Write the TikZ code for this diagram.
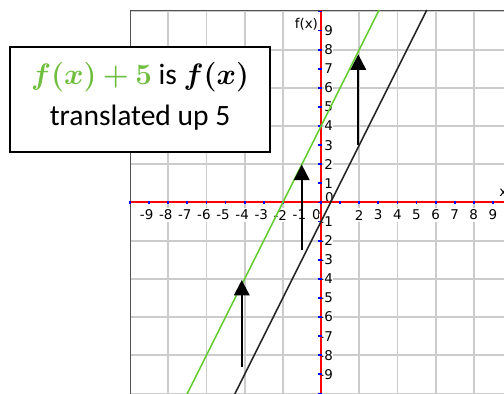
\documentclass[tikz,border=0pt]{standalone}
\usepackage{fix-cm}
\usepackage{amsmath,bm}
\usepackage{fontspec}
\setmainfont{Carlito}
\newfontfamily\tickfont{DejaVu Sans}
\usetikzlibrary{arrows.meta}
\definecolor{gridgray}{RGB}{204,204,204}
\definecolor{framegray}{RGB}{80,80,80}
\definecolor{shiftgreen}{RGB}{112,190,62}
\definecolor{linegreen}{RGB}{100,205,50}

\begin{document}
\begin{tikzpicture}[x=0.5cm,y=0.5cm,
  gridline/.style={gridgray,line width=1.3pt},
  axisline/.style={red,line width=1.4pt},
  tickmark/.style={blue,line width=1.3pt},
  numlab/.style={fill=white,inner xsep=0.4pt,inner ysep=1.6pt,
    font=\tickfont\fontsize{10}{11}\selectfont},
  graphline/.style={line width=1.1pt},
  shiftarrow/.style={-{Triangle[length=11.5pt,width=11.5pt]},line width=1.5pt}]
  % picture is 504x394 px, 1 unit = 19.1 px, origin at px (321,202.5)
  \useasboundingbox (-16.81,-10.03) rectangle (9.58,10.60);

  % grid and frame
  \draw[gridline] (-10,-10.5) grid (10.5,10);
  \draw[framegray,line width=0.8pt] (-10,-10.5) -- (-10,10.05) -- (10.5,10.05);

  % tick labels (white boxes hide the grid behind them)
  \foreach \i in {-9,...,-1,2,3,4,5,6,7,8,9} {
    \node[numlab,anchor=east] (xl\i) at (\i+0.26,-0.66) {\i};
  }
  \node[numlab,anchor=east] (xl0) at (0.02,-0.62) {0};
  \foreach \i in {-9,...,-1,1,2,3,4,5,6,7,8,9} {
    \node[numlab,anchor=east] (yl\i) at (0.66,\i) {\i};
  }
  \node[numlab,anchor=east,inner ysep=0.4pt] (yl0) at (0.7,0.24) {0};
  \node[numlab,anchor=east] (fxlab) at (-0.12,9.35) {f(x)};
  \node[numlab,anchor=west] (xlab) at (9.3,0.5) {x};

  % axes with blue ticks
  \draw[axisline] (-10,0) -- (10.5,0);
  \draw[axisline] (0,-10.5) -- (0,10.05);
  \foreach \i in {-10,...,10} {
    \draw[tickmark] (\i,-0.07) -- (\i,0.07);
    \draw[tickmark] (-0.14,\i) -- (0.07,\i);
  }

  % f(x) = 2x-1 and f(x)+5 = 2x+4
  \draw[graphline,black!85] (-4.75,-10.5) -- (5.54,10.08);
  \draw[graphline,linegreen] (-7.25,-10.5) -- (3.04,10.08);

  % shift arrows from f(x) up to f(x)+5
  \coordinate (tailA) at (1.95,3.0);
  \coordinate (headA) at (1.95,7.75);
  \coordinate (tailB) at (-1.01,-2.5);
  \coordinate (headB) at (-1.01,1.98);
  \coordinate (tailC) at (-4.15,-8.6);
  \coordinate (headC) at (-4.15,-4.06);
  \draw[shiftarrow] (tailA) -- (headA);
  \draw[shiftarrow] (tailB) -- (headB);
  \draw[shiftarrow] (tailC) -- (headC);

  % text box
  \node[draw,fill=white,line width=1pt,minimum width=6.806cm,minimum height=2.749cm]
    (note) at (-9.476,5.393) {};
  \node[anchor=base,font=\fontsize{22}{26}\selectfont] (noteA) at ([yshift=11.5pt]note.center)
    {\textcolor{shiftgreen}{$\boldsymbol{f(x)+5}$} is $\boldsymbol{f(x)}$};
  \node[anchor=base,font=\fontsize{22}{26}\selectfont] (noteB) at ([yshift=-19.7pt]note.center)
    {translated up 5};
\end{tikzpicture}
\end{document}
